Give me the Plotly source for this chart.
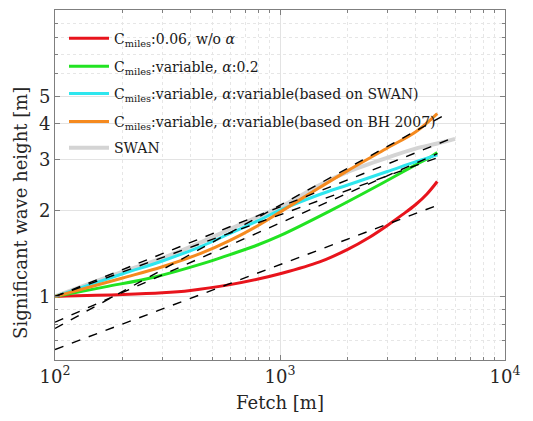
import plotly.graph_objects as go

# ---- data ----
red_x = [100, 200, 300, 400, 600, 800, 1000, 1500, 2000, 2500, 3000, 3500, 4000, 4500, 5000]
red_y = [1.0, 1.015, 1.03, 1.05, 1.10, 1.15, 1.20, 1.32, 1.46, 1.61, 1.77, 1.93, 2.09, 2.28, 2.52]

green_x = [100, 167, 278, 464, 600, 774, 1000, 1670, 2780, 4000, 4640, 5000]
green_y = [1.0, 1.08, 1.17, 1.31, 1.40, 1.50, 1.63, 1.99, 2.46, 2.88, 3.06, 3.18]

cyan_x = [100, 200, 300, 450, 600, 800, 1000, 1500, 2000, 3000, 4000, 5000]
cyan_y = [1.0, 1.2, 1.33, 1.5, 1.66, 1.84, 2.0, 2.27, 2.45, 2.73, 2.95, 3.12]

orange_x = [100, 200, 300, 450, 600, 800, 1000, 1500, 2000, 3000, 4000, 5000]
orange_y = [1.0, 1.16, 1.27, 1.42, 1.57, 1.77, 1.97, 2.4, 2.75, 3.3, 3.75, 4.35]

swan_x = [100, 200, 300, 450, 600, 800, 1000, 1500, 2000, 3000, 4000, 5000, 6000]
swan_y = [1.0, 1.22, 1.36, 1.55, 1.72, 1.9, 2.05, 2.45, 2.72, 3.05, 3.28, 3.42, 3.55]

# dashed power-law fits (end points)
fit_x = [[100, 6000], [100, 5000], [100, 5400], [100, 5000], [100, 5000]]
fit_y = [[1.0, 3.6], [1.0, 3.05], [0.773, 4.3], [0.813, 3.15], [0.653, 2.08]]

names = [
    "C<sub>miles</sub>:0.06, w/o <i>α</i>",
    "C<sub>miles</sub>:variable, <i>α</i>:0.2",
    "C<sub>miles</sub>:variable, <i>α</i>:variable(based on SWAN)",
    "C<sub>miles</sub>:variable, <i>α</i>:variable(based on BH 2007)",
    "SWAN",
]

x_major = [100, 1000, 10000]
x_labels = ["10<sup>2</sup>", "10<sup>3</sup>", "10<sup>4</sup>"]
y_major = [1, 2, 3, 4, 5]
x_minor = [200, 300, 400, 500, 600, 700, 800, 900,
           2000, 3000, 4000, 5000, 6000, 7000, 8000, 9000]
y_minor = [0.6, 0.7, 0.8, 0.9, 6, 7, 8, 9]

FONT = "DejaVu Serif"
TXT = "#262626"

fig = go.Figure()

fig.add_trace(go.Scatter(x=swan_x, y=swan_y, mode="lines", name=names[4], legend="legend5",
                         line=dict(color="#d4d4d4", width=4, shape="spline")))
fig.add_trace(go.Scatter(x=red_x, y=red_y, mode="lines", name=names[0], legend="legend",
                         line=dict(color="#e8141c", width=3, shape="spline")))
fig.add_trace(go.Scatter(x=green_x, y=green_y, mode="lines", name=names[1], legend="legend2",
                         line=dict(color="#22e322", width=3, shape="spline")))
fig.add_trace(go.Scatter(x=cyan_x, y=cyan_y, mode="lines", name=names[2], legend="legend3",
                         line=dict(color="#2ee6ee", width=3, shape="spline")))
fig.add_trace(go.Scatter(x=orange_x, y=orange_y, mode="lines", name=names[3], legend="legend4",
                         line=dict(color="#f58a1f", width=3, shape="spline")))
for fx, fy in zip(fit_x, fit_y):
    fig.add_trace(go.Scatter(x=fx, y=fy, mode="lines", showlegend=False,
                             line=dict(color="black", width=1.4, dash="dash")))

axis_common = dict(
    showline=True, linecolor="#7f7f7f", linewidth=1, mirror="allticks",
    ticks="inside", ticklen=5, tickcolor="#7f7f7f", automargin=False,
    showgrid=True, gridcolor="#e3e3e3", gridwidth=1, zeroline=False,
    tickfont=dict(family=FONT, size=18, color=TXT),
)

fig.update_xaxes(type="log", range=[2, 4], tickvals=x_major, ticktext=x_labels,
                 title=dict(text="Fetch [m]", font=dict(family=FONT, size=18, color=TXT),
                            standoff=10),
                 minor=dict(tickvals=x_minor, ticks="inside", ticklen=3, tickcolor="#7f7f7f",
                            showgrid=True, gridcolor="#e6e6e6", griddash="dot", gridwidth=1),
                 **axis_common)
fig.update_yaxes(type="log", range=[-0.2218, 1.0], tickvals=y_major,
                 ticktext=[str(v) for v in y_major],
                 minor=dict(tickvals=y_minor, ticks="inside", ticklen=3, tickcolor="#7f7f7f",
                            showgrid=True, gridcolor="#e6e6e6", griddash="dot", gridwidth=1),
                 **axis_common)

fig.add_annotation(text="Significant wave height [m]", textangle=-90,
                   xref="paper", yref="paper", x=-0.078, y=0.42,
                   xanchor="center", yanchor="middle", showarrow=False,
                   font=dict(family=FONT, size=18, color=TXT))

leg_font = dict(family=FONT, size=14, color="#1a1a1a")
leg_common = dict(x=0.02, xanchor="left", yanchor="middle", bgcolor="rgba(0,0,0,0)",
                  borderwidth=0, font=leg_font, itemwidth=40)
leg_y = [0.918, 0.838, 0.76, 0.68, 0.605]

# the page body adds an 8 px offset, so margins are reduced by 8 px on left/top
fig.update_layout(
    width=533, height=421,
    margin=dict(l=47, r=36, t=2, b=69),
    plot_bgcolor="white", paper_bgcolor="white",
    font=dict(family=FONT, color=TXT),
    legend=dict(y=leg_y[0], **leg_common),
    legend2=dict(y=leg_y[1], **leg_common),
    legend3=dict(y=leg_y[2], **leg_common),
    legend4=dict(y=leg_y[3], **leg_common),
    legend5=dict(y=leg_y[4], **leg_common),
)

fig.write_html("out.html")
